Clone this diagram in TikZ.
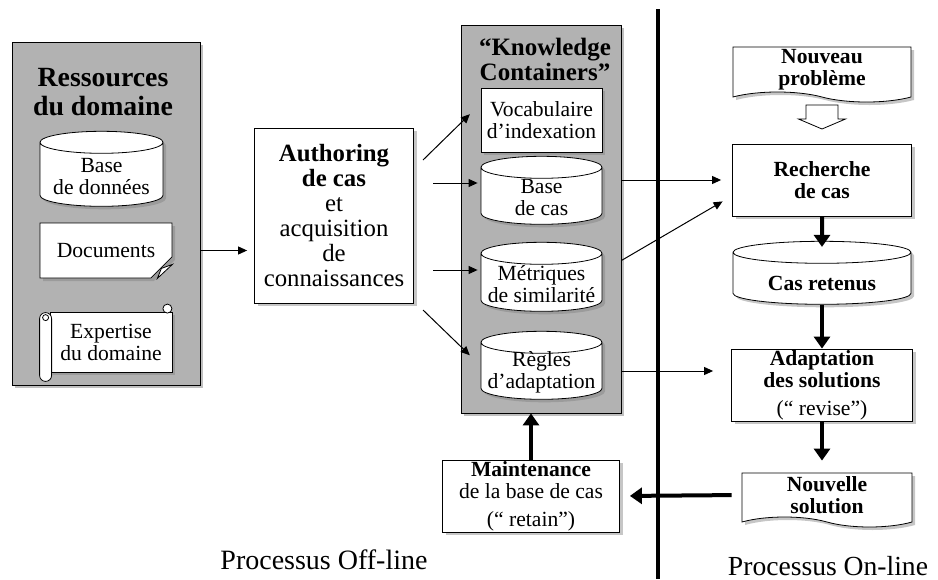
\documentclass[tikz,border=0pt]{standalone}
\usepackage{fontspec}
\setmainfont{Liberation Serif}
\usetikzlibrary{arrows.meta}
\usetikzlibrary{shapes.geometric}
\usetikzlibrary{shapes.symbols}
\usetikzlibrary{shapes.misc}
\usetikzlibrary{shadows}
\tikzset{box/.style = {draw, fill=white, inner sep=0, align=center, font=\fontsize{10.8}{11}\selectfont, drop shadow={shadow xshift=1.5pt, shadow yshift=-1.5pt, opacity=0.45}}}
\tikzset{panel/.style = {draw, fill=gray!60, inner sep=0, drop shadow={shadow xshift=1.5pt, shadow yshift=-1.5pt}}}
\tikzset{drum/.style = {box, cylinder, shape border rotate=90, aspect=0.2, text width=55pt}}
\tikzset{drumtext/.style = {inner sep=0, align=center, font=\fontsize{10.8}{11}\selectfont, yshift=-0.8pt}}
\tikzset{wave/.style = {box, tape, tape bend top=none, tape bend bottom=out and in, tape bend height=5pt}}
\tikzset{heavy/.style = {font=\bfseries\fontsize{10.8}{11}\selectfont}}
\tikzset{arr/.style = {-{Triangle[length=4.5pt, width=4pt]}, line width=0.5pt}}
\tikzset{bigarr/.style = {-{Triangle[length=6pt, width=8pt]}, line width=2pt}}

\begin{document}
\begin{tikzpicture}[x=0.5pt, y=-0.5pt]
  \useasboundingbox (0,0) rectangle (938,579);

  % off-line side
  \node [panel, minimum width=94pt, minimum height=171.5pt] (res) at (106,213.5) {};
  \node [font=\bfseries\fontsize{13.9}{14.5}\selectfont, align=center] (restitle) at (103,92) {Ressources\\du domaine};
  \node [drum, minimum width=61.5pt, minimum height=37.5pt] (bdd) at (101.5,174.5) {};
  \node [drumtext] (bddtext) at (bdd) {Base\\de données};
  \node [box, chamfered rectangle, chamfered rectangle corners=south east, chamfered rectangle xsep=7.5pt, chamfered rectangle ysep=7pt, minimum width=66pt, minimum height=27.5pt] (doc) at (106,250.5) {Documents};
  \draw [fill=white] ([yshift=7pt]doc.east |- doc.south) -- ([xshift=-5.5pt, yshift=5pt]doc.east |- doc.south) -- ([xshift=-7.5pt]doc.east |- doc.south) -- cycle;
  \node [box, minimum width=61pt, minimum height=30pt] (exp) at (111,342) {Expertise\\du domaine};
  \draw [fill=white, rounded corners=3pt] ([xshift=-5pt, yshift=-4.5pt]exp.south west) rectangle ([xshift=1pt, yshift=-0.5pt]exp.north west);
  \draw ([xshift=-2pt, yshift=-3pt]exp.north west) circle (3);
  \draw [fill=white] ([xshift=-2.5pt, yshift=1.5pt]exp.north east) circle (4.5);

  \node [box, minimum width=79.5pt, minimum height=87.5pt, font=\fontsize{12.4}{12.5}\selectfont] (auth) at (334,215.5) {\textbf{Authoring}\\\textbf{de cas}\\et\\acquisition\\de\\connaissances};

  \node [panel, minimum width=80pt, minimum height=194pt] (kc) at (541,219) {};
  \node [font=\bfseries\fontsize{12.5}{12.5}\selectfont, align=center] (kctitle) at (545,59.5) {“Knowledge\\Containers”};
  \node [box, minimum width=60.5pt, minimum height=32pt] (voc) at (541.5,120) {Vocabulaire\\d’indexation};
  \node [drum, minimum width=60.5pt, minimum height=34pt] (bdc) at (541.5,196) {};
  \node [drumtext] (bdctext) at (bdc) {Base\\de cas};
  \node [drum, minimum width=60.5pt, minimum height=34.5pt] (met) at (541.5,282.5) {};
  \node [drumtext] (mettext) at (met) {Métriques\\de similarité};
  \node [drum, minimum width=60.5pt, minimum height=34pt] (rg) at (541.5,371) {};
  \node [drumtext] (rgtext) at (rg) {Règles\\d’adaptation};

  \node [box, minimum width=88.5pt, minimum height=36pt] (maint) at (531,496) {\textbf{Maintenance}\\de la base de cas\\[3pt](“ retain”)};

  % on-line side
  \node [wave, heavy, minimum width=89pt, minimum height=27.5pt] (np) at (822,69.5) {Nouveau\\problème};
  \draw [fill=white] (806,105) -- (838,105) -- (838,119) -- (845.5,119) -- (822,129) -- (798.5,119) -- (806,119) -- cycle;
  \node [box, heavy, minimum width=89.5pt, minimum height=36pt] (rech) at (822,180) {Recherche\\de cas};
  \node [drum, minimum width=89pt, minimum height=31.5pt] (cr) at (822,278.5) {};
  \node [drumtext, heavy, yshift=-1.7pt] (crtext) at (cr) {Cas retenus};
  \node [box, minimum width=90.5pt, minimum height=36pt] (adapt) at (822,385) {\textbf{Adaptation}\\\textbf{des solutions}\\[3pt](“ revise”)};
  \node [wave, heavy, minimum width=85pt, minimum height=27pt] (ns) at (827,495) {Nouvelle\\solution};

  \node [font=\fontsize{14}{16}\selectfont] (offline) at (324,560) {Processus Off-line};
  \node [font=\fontsize{13.8}{16}\selectfont] (online) at (828,566) {Processus On-line};

  \coordinate (septop) at (658,9);
  \coordinate (sepbot) at (658,579);
  \draw [line width=2pt] (septop) -- (sepbot);

  % connectors
  \coordinate (a1) at (423,160);
  \coordinate (a2) at (433,183);
  \coordinate (a3) at (433,270);
  \coordinate (a4) at (423,310);
  \draw [arr, shorten >=3.5pt] (res.east |- doc.east) -- (auth.west |- doc.east);
  \draw [arr, shorten >=7.5pt] (a1) -- (voc.165);
  \draw [arr, shorten >=1.5pt] (a2) -- (bdc.west |- a2);
  \draw [arr, shorten >=1.5pt] (a3) -- (met.west |- a3);
  \draw [arr, shorten >=7.5pt] (a4) -- (rg.175);
  \draw [arr, shorten >=5.5pt] (kc.east |- rech.west) -- (rech.west);
  \draw [arr, shorten >=5.5pt] ([yshift=11pt]kc.east |- met.west) -- (rech.190);
  \draw [arr, shorten >=9pt] (kc.east |- rg.east) -- (adapt.west |- rg.east);

  \draw [bigarr, shorten >=-3pt] (rech.south) -- (cr.north);
  \draw [bigarr] (cr.south) -- (adapt.north);
  \draw [bigarr, shorten >=6pt] (adapt.south) -- (adapt.south |- ns.north);
  \draw [bigarr, shorten <=5pt, shorten >=5pt] (ns.west) -- (maint.east);
  \draw [bigarr] (maint.north) -- (maint.north |- kc.south);
\end{tikzpicture}
\end{document}
